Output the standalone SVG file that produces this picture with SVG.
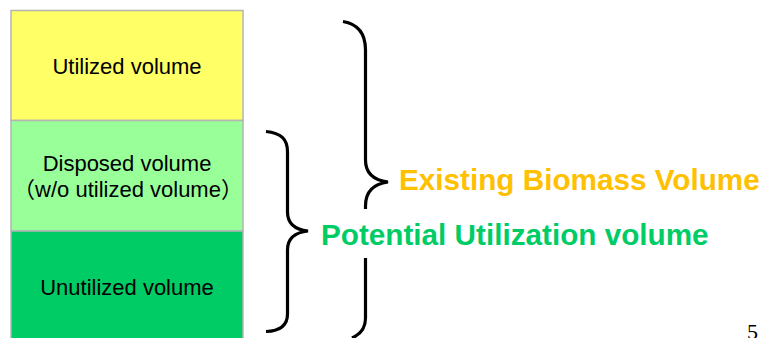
<svg xmlns="http://www.w3.org/2000/svg" width="763" height="338" viewBox="0 0 763 338">
  <style>
    .box { stroke: #b4b4b4; stroke-width: 1.5; }
    .lbl { font-family: "Liberation Sans", "Noto Sans CJK JP", Arial, sans-serif; font-size: 22px; fill: #000; text-anchor: middle; }
    .big { font-family: "Liberation Sans", Arial, sans-serif; font-size: 29.7px; font-weight: bold; }
    .brace { fill: none; stroke: #000; stroke-width: 3.2; stroke-linecap: butt; }
  </style>
  <rect width="763" height="338" fill="#ffffff"/>
  <g id="utilized">
    <rect class="box" x="11" y="10.5" width="232" height="110" fill="#ffff66"/>
    <text class="lbl" x="127" y="74">Utilized volume</text>
  </g>
  <g id="disposed">
    <rect class="box" x="11" y="120.5" width="232" height="110.5" fill="#99ff99"/>
    <text class="lbl" x="127" y="171">Disposed volume</text>
    <text class="lbl" x="128" y="197">（w/o utilized volume）</text>
  </g>
  <g id="unutilized">
    <rect class="box" x="11" y="231" width="232" height="112" fill="#00cc66"/>
    <text class="lbl" x="127" y="295">Unutilized volume</text>
  </g>
  <g id="connectors">
    <path id="brace-existing" class="brace" d="M343,21.5 C358,24 365.5,33 365.5,50 L365.5,160 C365.5,172 372,180 388,182 C372,184 365.5,193 365.5,206 L365.5,318 C365.5,330 359,335 352,338"/>
    <path id="brace-potential" class="brace" d="M266,131.5 C281,133 287.5,139 287.5,152 L287.5,212 C287.5,223 294,229.5 308,231 C294,232.5 287.5,239 287.5,250 L287.5,314 C287.5,325 281,331 266,331.5"/>
  </g>
  <g id="existing-label">
    <text class="big" x="399" y="190" fill="#ffc000">Existing Biomass Volume</text>
  </g>
  <g id="potential-label">
    <rect x="320" y="209" width="392" height="49" fill="#ffffff"/>
    <text class="big" x="321" y="245" fill="#00cc66">Potential Utilization volume</text>
  </g>
  <text x="747" y="339" font-family="Liberation Serif, 'Times New Roman', serif" font-size="22" fill="#000">5</text>
</svg>
